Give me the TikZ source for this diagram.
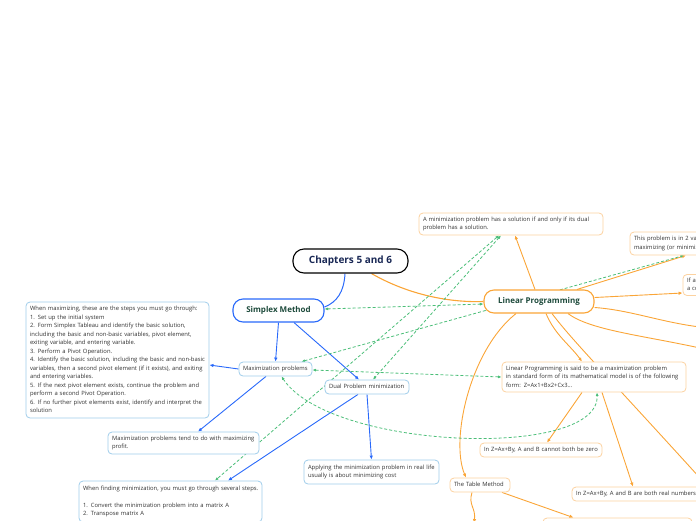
\documentclass[tikz,border=0pt]{standalone}
\usepackage{fontspec}
\setmainfont{Open Sans}
\usetikzlibrary{arrows.meta,backgrounds}
\definecolor{cblue}{RGB}{41,105,250}
\definecolor{corange}{RGB}{250,165,55}
\definecolor{cgreen}{RGB}{75,190,120}
\definecolor{lblue}{RGB}{160,205,235}
\definecolor{lorange}{RGB}{252,210,160}
\definecolor{navy}{RGB}{25,40,85}
\definecolor{dgreen}{RGB}{30,75,60}
\definecolor{tgray}{RGB}{50,50,50}
\newcommand\bxt[1]{\begin{tabular}{@{}l@{}}#1\end{tabular}}
\begin{document}
\begin{tikzpicture}[x=1pt,y=-1pt,
  smallfont/.style={font=\fontsize{5.85}{8.5}\selectfont},
  boxb/.style={draw=lblue, line width=0.8pt, fill=white, rounded corners=4pt, text=tgray, smallfont, align=left, inner xsep=4pt, inner ysep=2pt},
  boxo/.style={boxb, draw=lorange},
  rootnode/.style={draw=black, line width=1.1pt, fill=white, rounded corners=11pt, font=\fontsize{10}{12}\selectfont\bfseries, text=navy, minimum width=115pt, minimum height=24pt},
  mainb/.style={draw=cblue, line width=1.1pt, fill=white, rounded corners=10pt, font=\fontsize{8}{10}\selectfont\bfseries, text=dgreen},
  maino/.style={mainb, draw=corange},
  bl/.style={draw=cblue, line width=0.9pt, -{Latex[length=4pt,width=3.5pt]}},
  ol/.style={draw=corange, line width=0.9pt, -{Latex[length=4pt,width=3.5pt]}},
  gl/.style={draw=cgreen, line width=0.8pt, dash pattern=on 3pt off 2pt, {Latex[length=3.5pt,width=3pt]}-{Latex[length=3.5pt,width=3pt]}},
]
\useasboundingbox (0,0) rectangle (696,520);

% main nodes
\node[rootnode] (ch) at (350.5,261) {Chapters 5 and 6};
\node[mainb, minimum width=91pt, minimum height=23pt] (sm) at (278.5,310.5) {Simplex Method};
\node[maino, minimum width=110pt, minimum height=23pt] (lp) at (539,301.5) {Linear Programming};

% orange boxes
\node[boxo, text width=176pt, minimum height=22pt] (amin) at (511,224) {\bxt{A minimization problem has a solution if and only if its dual\\problem has a solution.}};
\node[boxo, text width=152pt, minimum height=23pt] (tp) at (710,243.5) {\bxt{This problem is in 2 variables\\maximizing (or minimizing)}};
\node[boxo, text width=142pt, minimum height=20pt] (ifa) at (758,285) {\bxt{If a\\a co}};
\node[boxo, text width=176pt, minimum height=30pt] (lps) at (594,377) {\bxt{Linear Programming is said to be a maximization problem\\in standard form of its mathematical model is of the following\\form: Z=Ax1+Bx2+Cx3...}};
\node[boxo, text width=114pt, minimum height=14pt] (cz) at (541,450) {\bxt{In Z=Ax+By, A and B cannot both be zero}};
\node[boxo, text width=52pt, minimum height=14pt] (tm) at (480,485) {\bxt{The Table Method}};
\node[boxo, text width=132pt, minimum height=14pt] (rn) at (642,494) {\bxt{In Z=Ax+By, A and B are both real numbers.}};
\node[boxo, text width=141pt, minimum height=30pt] (bt) at (617.5,533) {};

% blue boxes
\node[boxb, text width=175pt, minimum height=116pt] (wm) at (117.5,360) {\bxt{When maximizing, these are the steps you must go through:\\
1. Set up the initial system\\
2. Form Simplex Tableau and identify the basic solution,\\
including the basic and non-basic variables, pivot element,\\
exiting variable, and entering variable.\\
3. Perform a Pivot Operation.\\
4. Identify the basic solution, including the basic and non-basic\\
variables, then a second pivot element (if it exists), and exiting\\
and entering variables.\\
5. If the next pivot element exists, continue the problem and\\
perform a second Pivot Operation.\\
6. If no further pivot elements exist, identify and interpret the\\
solution}};
\node[boxb, text width=65pt, minimum height=14pt] (mp) at (275.5,369) {\bxt{Maximization problems}};
\node[boxb, text width=76pt, minimum height=14pt] (dp) at (367,387) {\bxt{Dual Problem minimization}};
\node[boxb, text width=143pt, minimum height=22pt] (mt) at (183.5,443) {\bxt{Maximization problems tend to do with maximizing\\profit.}};
\node[boxb, text width=175pt, minimum height=41pt] (wf) at (170.5,501.5) {\bxt{When finding minimization, you must go through several steps.\\[8.5pt]1. Convert the minimization problem into a matrix A\\2. Transpose matrix A}};
\node[boxb, text width=127pt, minimum height=24pt] (ap) at (371.5,472) {\bxt{Applying the minimization problem in real life\\usually is about minimizing cost}};

\coordinate (off1) at (700,327);
\coordinate (off2) at (700,348);
\coordinate (off3) at (700,478);
\coordinate (off4) at (474,523);

\begin{pgfonlayer}{background}
% blue
\draw[draw=cblue, line width=1pt] ([xshift=-5.5pt]ch.south) .. controls (344,292) and (337,302) .. ([yshift=3.5pt]sm.east);
\draw[bl] (sm.south) -- (mp.north);
\draw[bl] ([xshift=15.5pt]sm.south) -- ([xshift=-8pt]dp.north);
\draw[bl] (mp.west) -- ([yshift=-5pt]wm.east);
\draw[bl] ([xshift=-9.5pt]mp.south) -- ([xshift=14.5pt]mt.north);
\draw[bl] ([xshift=-9pt]dp.south) -- ([xshift=57.5pt]wf.north);
\draw[bl] (dp.south) -- (ap.north);
% orange
\draw[draw=corange, line width=1.1pt] ([xshift=21pt]ch.south) .. controls (400,290) and (440,303) .. (lp.west);
\draw[ol] ([xshift=-4pt]lp.north) -- ([xshift=4pt]amin.south);
\draw[ol] ([xshift=38pt]lp.north) -- ([xshift=-24pt]tp.south);
\draw[ol] ([yshift=4pt]lp.east) -- ([yshift=-8pt]ifa.west);
\draw[draw=corange, line width=0.9pt] ([yshift=-6pt]lp.east) .. controls (630,310) and (660,322) .. (off1);
\draw[draw=corange, line width=0.9pt] ([xshift=29pt]lp.south) .. controls (590,330) and (640,335) .. (off2);
\draw[ol] ([xshift=7pt]lp.south) .. controls (555,335) and (570,345) .. ([xshift=-12pt]lps.north);
\draw[draw=corange, line width=0.9pt] ([xshift=13pt]lp.south) .. controls (572,340) and (600,368) .. (off3);
\draw[ol] ([xshift=-23pt]lp.south) .. controls (470,350) and (450,440) .. ([xshift=-14pt]tm.north);
\draw[ol] ([xshift=-12pt]lps.south) -- ([xshift=6pt]cz.north);
\draw[ol] ([xshift=8pt]lps.south) -- ([xshift=-9pt]rn.north);
\draw[ol] ([xshift=22pt]tm.south) -- ([xshift=-44pt]bt.north);
\draw[ol] ([xshift=-8pt]tm.south) .. controls (468,505) and (476,508) .. (off4);
% green dashed
\draw[gl] ([yshift=1.5pt]sm.east) -- ([yshift=-2.5pt]lp.west);
\draw[gl] ([xshift=-10pt]amin.south) -- ([xshift=6pt]dp.north);
\draw[gl] ([xshift=-12pt]amin.south) -- ([xshift=44.5pt]wf.north);
\draw[gl] ([xshift=26pt]mp.north) -- ([xshift=-26pt]tp.south);
\draw[gl] ([yshift=-1pt]mp.east) -- (lps.west);
\draw[gl] ([xshift=6pt]mp.south) .. controls (330,450) and (600,460) .. ([xshift=3pt]lps.south);
\end{pgfonlayer}
\end{tikzpicture}
\end{document}
